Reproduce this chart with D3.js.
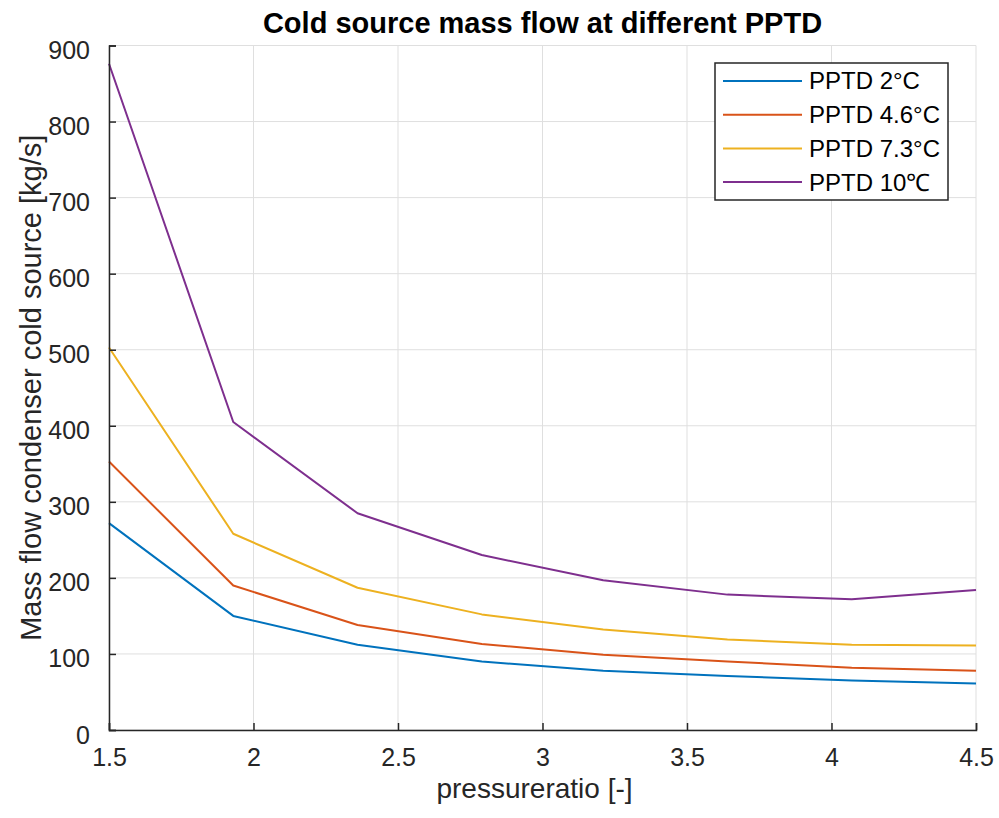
<!DOCTYPE html>
<html>
<head>
<meta charset="utf-8">
<script src="https://cdn.jsdelivr.net/npm/d3@7"></script>
<style>
  body { margin: 0; background: #fff; }
  svg { font-family: "Liberation Sans", Arial, sans-serif; }
</style>
</head>
<body>
<svg width="999" height="818"></svg>
<script>
// pressure ratio samples
var ratios = [1.5, 1.93, 2.36, 2.79, 3.21, 3.64, 4.07, 4.5];

var pptd2 = [272, 150, 112, 90, 78, 71, 65, 61];
var pptd46 = [353, 190, 138, 113, 99, 90, 82, 78];
var pptd73 = [503, 258, 187, 152, 132, 119, 112, 111];
var pptd10 = [876, 405, 285, 230, 197, 178, 172, 184];

var seriesNames = ["PPTD 2°C", "PPTD 4.6°C", "PPTD 7.3°C", "PPTD 10℃"];
var seriesValues = [pptd2, pptd46, pptd73, pptd10];
var colors = ["#0072BD", "#D95319", "#EDB120", "#7E2F8E"];

var xTicks = [1.5, 2, 2.5, 3, 3.5, 4, 4.5];
var yTicks = [0, 100, 200, 300, 400, 500, 600, 700, 800, 900];

var svg = d3.select("svg"),
    margin = {top: 45.5, right: 23, bottom: 88, left: 109},
    width = +svg.attr("width") - margin.left - margin.right,
    height = +svg.attr("height") - margin.top - margin.bottom,
    g = svg.append("g").attr("transform", "translate(" + margin.left + "," + margin.top + ")");

var x = d3.scaleLinear().domain([1.5, 4.5]).range([0, width]);
var y = d3.scaleLinear().domain([0, 900]).range([height, 0]);

var axisColor = "#262626";

// grid
g.append("g")
    .selectAll("line")
    .data(xTicks)
    .enter().append("line")
    .attr("x1", function (d) { return x(d); })
    .attr("x2", function (d) { return x(d); })
    .attr("y1", 0)
    .attr("y2", height)
    .attr("stroke", "#dfdfdf")
    .attr("stroke-width", 1);

g.append("g")
    .selectAll("line")
    .data(yTicks)
    .enter().append("line")
    .attr("x1", 0)
    .attr("x2", width)
    .attr("y1", function (d) { return y(d); })
    .attr("y2", function (d) { return y(d); })
    .attr("stroke", "#dfdfdf")
    .attr("stroke-width", 1);

// lines
var line = d3.line()
    .x(function (d, i) { return x(ratios[i]); })
    .y(function (d) { return y(d); });

g.append("g")
    .selectAll("path")
    .data(seriesValues)
    .enter().append("path")
    .attr("d", line)
    .attr("fill", "none")
    .attr("stroke", function (d, i) { return colors[i]; })
    .attr("stroke-width", 2)
    .attr("stroke-linejoin", "round");

// axes (ticks inside, like matlab)
var xAxis = g.append("g")
    .attr("transform", "translate(0," + height + ")")
    .call(d3.axisBottom(x).tickValues(xTicks).tickSize(-7).tickPadding(18)
        .tickFormat(d3.format("")));
var yAxis = g.append("g")
    .call(d3.axisLeft(y).tickValues(yTicks).tickSize(-7).tickPadding(19)
        .tickFormat(d3.format("")));

[xAxis, yAxis].forEach(function (a) {
    a.select(".domain").attr("stroke", axisColor).attr("stroke-width", 1.5);
    a.selectAll(".tick line").attr("stroke", axisColor).attr("stroke-width", 1.5);
    a.selectAll(".tick text")
        .attr("fill", axisColor)
        .attr("font-size", 25)
        .attr("font-family", "Liberation Sans, Arial, sans-serif");
});
xAxis.selectAll(".tick text").attr("dy", "0.71em");
yAxis.selectAll(".tick text").attr("dy", "0.52em");

// title and labels
svg.append("text")
    .attr("x", margin.left + width / 2)
    .attr("y", 33)
    .attr("text-anchor", "middle")
    .attr("font-size", 29)
    .attr("font-weight", "bold")
    .attr("fill", "#000")
    .text("Cold source mass flow at different PPTD");

svg.append("text")
    .attr("x", margin.left + width / 2 - 8)
    .attr("y", 798)
    .attr("text-anchor", "middle")
    .attr("font-size", 28)
    .attr("fill", axisColor)
    .text("pressureratio [-]");

svg.append("text")
    .attr("transform", "translate(41," + (margin.top + height / 2) + ") rotate(-90)")
    .attr("text-anchor", "middle")
    .attr("font-size", 29)
    .attr("fill", axisColor)
    .text("Mass flow condenser cold source [kg/s]");

// legend
var legend = svg.append("g").attr("transform", "translate(715,63)");
legend.append("rect")
    .attr("width", 233)
    .attr("height", 137)
    .attr("fill", "#fff")
    .attr("stroke", axisColor)
    .attr("stroke-width", 1.5);

var items = legend.selectAll("g.item")
    .data(seriesNames)
    .enter().append("g")
    .attr("class", "item")
    .attr("transform", function (d, i) { return "translate(0," + (18 + i * 33.7) + ")"; });

items.append("line")
    .attr("x1", 8)
    .attr("x2", 87)
    .attr("stroke", function (d, i) { return colors[i]; })
    .attr("stroke-width", 2);

items.append("text")
    .attr("x", 94)
    .attr("dy", "0.35em")
    .attr("font-size", 24)
    .attr("fill", "#000")
    .text(function (d) { return d; });
</script>
</body>
</html>
